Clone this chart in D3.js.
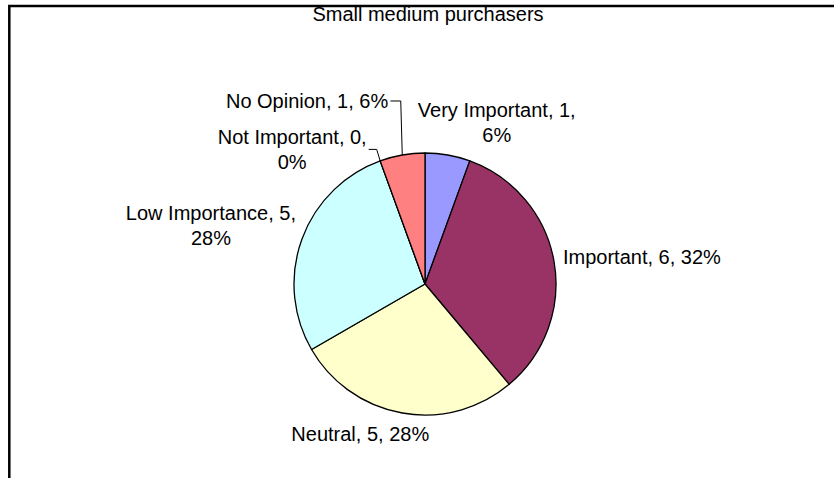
<!DOCTYPE html>
<html>
<head>
<meta charset="utf-8">
<style>
  body { margin: 0; background: #fff; }
  svg text { font-family: "Liberation Sans", Arial, sans-serif; fill: #000; }
</style>
<script src="https://cdn.jsdelivr.net/npm/d3@7/dist/d3.min.js"></script>
</head>
<body>
<svg id="chart" width="834" height="478"></svg>
<script>
// data
var chartTitle = "Small medium purchasers";
var categories = ["Very Important", "Important", "Neutral", "Low Importance", "Not Important", "No Opinion"];
var counts = [1, 6, 5, 5, 0, 1];
var pctLabels = ["6%", "32%", "28%", "28%", "0%", "6%"];
var colors = ["#9999FF", "#993366", "#FFFFCC", "#CCFFFF", "#660066", "#FF8080"];

// label placement (offset from the slice's edge point at its mid angle)
var labelLines = [2, 1, 1, 2, 2, 1];
var labelAnchor = ["middle", "start", "middle", "middle", "middle", "end"];
var labelNudge = [[49, -38], [9, 3], [-42, 28], [-91, -19], [-88, -17], [-14, -47]];

var svg = d3.select("#chart");
var width = +svg.attr("width"), height = +svg.attr("height");

// outer frame (cut off at right and bottom)
svg.append("rect")
    .attr("x", 9.3).attr("y", 6)
    .attr("width", width + 10).attr("height", height + 10)
    .attr("fill", "none").attr("stroke", "#000").attr("stroke-width", 2.5);

svg.append("text")
    .attr("x", 428).attr("y", 21)
    .attr("text-anchor", "middle")
    .attr("font-size", "20px")
    .text(chartTitle);

var cx = 425, cy = 284, r = 131;

var pie = d3.pie().sort(null).value(function(d) { return d; });
var arcs = pie(counts);
var arc = d3.arc().innerRadius(0).outerRadius(r);

var g = svg.append("g").attr("transform", "translate(" + cx + "," + cy + ")");

g.selectAll("path")
    .data(arcs)
    .enter().append("path")
    .attr("d", arc)
    .attr("fill", function(d, i) { return colors[i]; })
    .attr("stroke", "#000")
    .attr("stroke-width", 1.3)
    .attr("stroke-linejoin", "round");

function edgePoint(d) {
    var a = (d.startAngle + d.endAngle) / 2;
    return [r * Math.sin(a), -r * Math.cos(a)];
}

var fs = 20, lh = 25;

arcs.forEach(function(d, i) {
    var p = edgePoint(d);
    var x = p[0] + labelNudge[i][0], y = p[1] + labelNudge[i][1];
    var t = g.append("text")
        .attr("text-anchor", labelAnchor[i])
        .attr("font-size", fs + "px");
    if (labelLines[i] == 2) {
        t.append("tspan").attr("x", x).attr("y", y).text(categories[i] + ", " + counts[i] + ",");
        t.append("tspan").attr("x", x).attr("y", y + lh).text(pctLabels[i]);
    } else {
        t.append("tspan").attr("x", x).attr("y", y).text(categories[i] + ", " + counts[i] + ", " + pctLabels[i]);
    }
    d.label = t;
});

// leader lines for the two crowded labels at the top
[4, 5].forEach(function(i) {
    var d = arcs[i];
    var p = edgePoint(d);
    var bb = d.label.node().getBBox();
    var my = bb.y + bb.height / 2;
    var rx = bb.x + bb.width + 2;
    var pts;
    if (i == 5) {
        pts = [[rx, my], [p[0] - 1.5, my], [p[0], p[1]]];
    } else {
        pts = [[rx, my], [rx + 8, my], [p[0], p[1]]];
    }
    g.append("path")
        .attr("d", d3.line()(pts))
        .attr("fill", "none")
        .attr("stroke", "#000")
        .attr("stroke-width", 1);
});
</script>
</body>
</html>
